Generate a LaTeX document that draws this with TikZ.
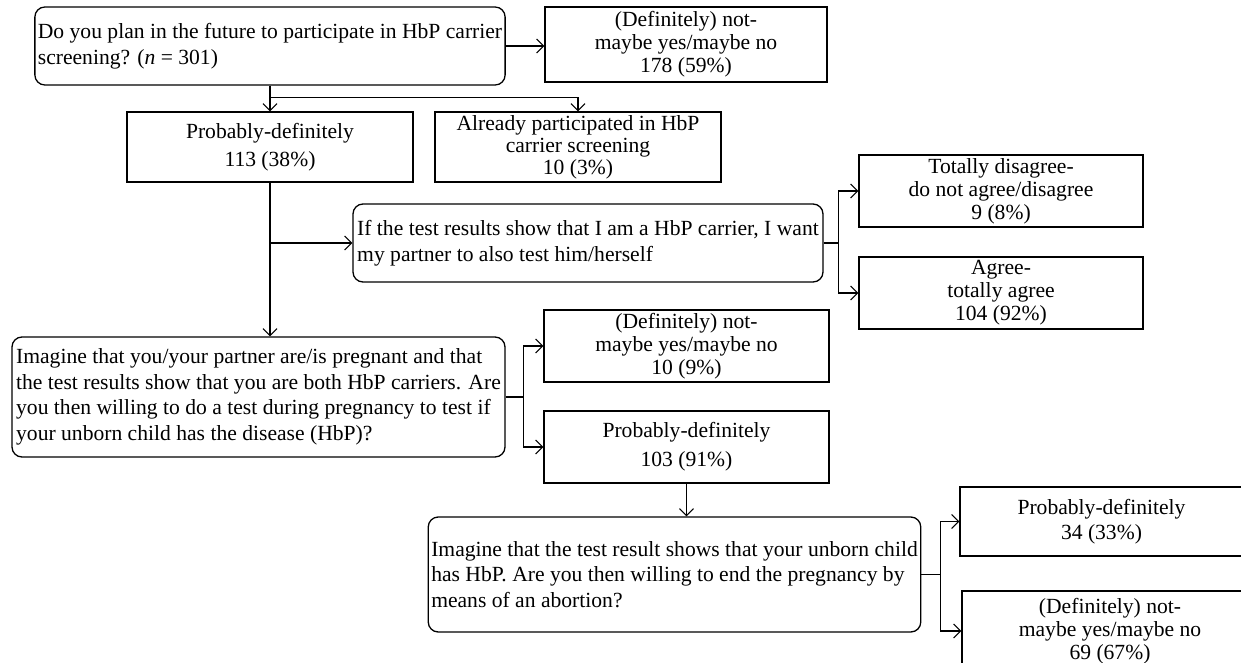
\documentclass[tikz,border=0pt]{standalone}
\usepackage{fontspec}
\setmainfont{Liberation Serif}
\usepackage{tikz}
\usetikzlibrary{arrows.meta}

\begin{document}
\begin{tikzpicture}[x=1pt,y=-1pt,line width=1.3pt,
    >={Straight Barb[length=7pt,width=14pt,line width=1.1pt]},
    qbox/.style={draw,rounded corners=10pt,align=left,inner sep=3pt,
      font=\fontsize{21.6}{25.5}\selectfont},
    abox/.style={draw,align=center,inner sep=2pt,
      font=\fontsize{21.6}{23}\selectfont}]
  \useasboundingbox (0,0) rectangle (1241,663);
  \clip (0,0) rectangle (1241,663);
  % Question boxes
  \node[qbox,minimum width=469pt,minimum height=78pt] (plan) at (270,46)
    {Do you plan in the future to participate in HbP carrier\\
     screening? (\textit{n} = 301)};
  \node[qbox,minimum width=470pt,minimum height=78pt] (partner) at (588,243)
    {If the test results show that I am a HbP carrier, I want\\
     my partner to also test him/herself};
  \node[qbox,minimum width=493pt,minimum height=120pt] (pregnant) at (258.5,397)
    {Imagine that you/your partner are/is pregnant and that\\
     the test results show that you are both HbP carriers. Are\\
     you then willing to do a test during pregnancy to test if\\
     your unborn child has the disease (HbP)?};
  \node[qbox,minimum width=491pt,minimum height=115pt] (abortion) at (674.5,574.5)
    {Imagine that the test result shows that your unborn child\\
     has HbP. Are you then willing to end the pregnancy by\\
     means of an abortion?};
  % Answer boxes
  \node[abox,minimum width=282pt,minimum height=75pt] (planNo) at (686,44.5)
    {(Definitely) not-\\ maybe yes/maybe no\\ 178 (59\%)};
  \node[abox,minimum width=286pt,minimum height=70pt] (planYes) at (270,147)
    {Probably-definitely\\[5pt] 113 (38\%)};
  \node[abox,minimum width=286pt,minimum height=70pt,
    font=\fontsize{21.6}{22}\selectfont] (already) at (578,147)
    {Already participated in HbP\\ carrier screening\\ 10 (3\%)};
  \node[abox,minimum width=284pt,minimum height=72pt] (disagree) at (1001,191)
    {Totally disagree-\\ do not agree/disagree\\ 9 (8\%)};
  \node[abox,minimum width=284pt,minimum height=72pt] (agree) at (1001,293)
    {Agree-\\ totally agree\\ 104 (92\%)};
  \node[abox,minimum width=285pt,minimum height=72pt] (testNo) at (686.5,346)
    {(Definitely) not-\\ maybe yes/maybe no\\ 10 (9\%)};
  \node[abox,minimum width=285pt,minimum height=72pt] (testYes) at (686.5,447)
    {Probably-definitely\\[6pt] 103 (91\%)};
  \node[abox,minimum width=283pt,minimum height=69pt] (abortYes) at (1101.5,521.5)
    {Probably-definitely\\[2pt] 34 (33\%)};
  \node[abox,minimum width=296pt,minimum height=80pt] (abortNo) at (1110,631)
    {(Definitely) not-\\ maybe yes/maybe no\\ 69 (67\%)};
  % Connectors
  \draw[->] (plan.east) -- (plan.east -| planNo.west);
  \draw[->] (plan.south) -- (planYes.north);
  \draw[->] (plan.south) -- ++(0,12) -| (already.north);
  \draw[->] (planYes.south) -- (planYes.south |- pregnant.north);
  \draw[->] (planYes.south |- partner.west) -- (partner.west);
  \draw (partner.east) -- ++(15,0) coordinate (partnerJ);
  \draw[->] (partnerJ) |- (disagree.west);
  \draw[->] (partnerJ) |- (agree.west);
  \draw (pregnant.east) -- ++(18,0) coordinate (pregnantJ);
  \draw[->] (pregnantJ) |- (testNo.west);
  \draw[->] (pregnantJ) |- (testYes.west);
  \draw[->] (testYes.south) -- (testYes.south |- abortion.north);
  \draw (abortion.east) -- ++(19,0) coordinate (abortionJ);
  \draw[->] (abortionJ) |- (abortYes.west);
  \draw[->] (abortionJ) |- (abortNo.west);
\end{tikzpicture}
\end{document}
